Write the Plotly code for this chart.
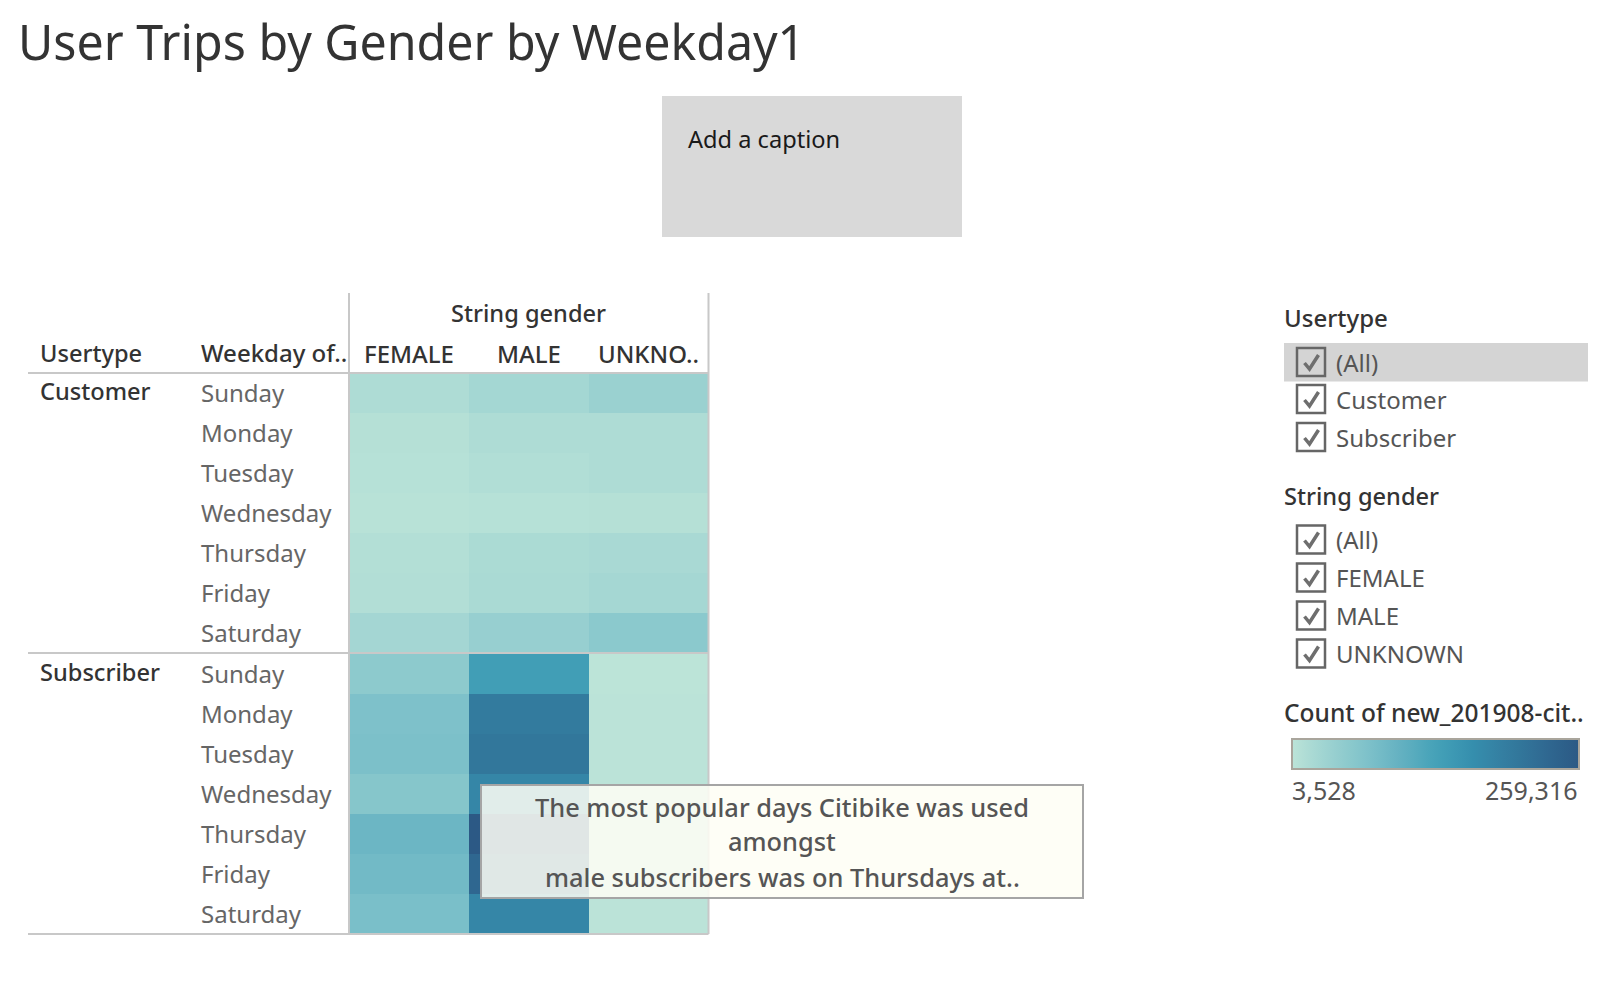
import plotly.graph_objects as go

W, H = 1624, 992
FONT = "Noto Sans"

genders = ["FEMALE", "MALE", "UNKNOWN"]
gender_labels = ["FEMALE", "MALE", "UNKNO.."]
weekdays = ["Sunday", "Monday", "Tuesday", "Wednesday", "Thursday", "Friday", "Saturday"]
usertypes = ["Customer", "Subscriber"]

customer_female = [17000, 10300, 8900, 7600, 12300, 13000, 27800]
customer_male = [27000, 17000, 14300, 8900, 19700, 21000, 41200]
customer_unknown = [38500, 17000, 17000, 10300, 22400, 26400, 54700]
subscriber_female = [53300, 70800, 73500, 61400, 91000, 84300, 74900]
subscriber_male = [138100, 198700, 205500, 178500, 259316, 232400, 178500]
subscriber_unknown = [3528, 4900, 4900, 4900, 4900, 4900, 4900]

color_min_label = "3,528"
color_max_label = "259,316"
bluteal = ["#bce4d8", "#aedcd5", "#a1d5d2", "#95cecf", "#89c8cc", "#7ec1ca", "#72bac6",
           "#66b2c2", "#59acbe", "#4ba5ba", "#419eb6", "#3b96b2", "#358ead", "#3586a7",
           "#347ea1", "#32779b", "#316f96", "#2f6790", "#2d608a", "#2c5985"]

filter_usertype = ["(All)", "Customer", "Subscriber"]
filter_gender = ["(All)", "FEMALE", "MALE", "UNKNOWN"]

row_keys = [f"{u}|{d}" for u in usertypes for d in weekdays]
z = []
for i in range(7):
    z.append([customer_female[i], customer_male[i], customer_unknown[i]])
for i in range(7):
    z.append([subscriber_female[i], subscriber_male[i], subscriber_unknown[i]])

LEFT, RIGHT, TOP, MID, BOTTOM = 349, 708.5, 373, 653, 934
px = lambda v: v / W
py = lambda v: 1 - v / H

fig = go.Figure(go.Heatmap(
    z=z, x=genders, y=row_keys, zmin=3528, zmax=259316,
    colorscale=[[i / (len(bluteal) - 1), c] for i, c in enumerate(bluteal)],
    hoverongaps=False,
    colorbar=dict(orientation="h", x=px(1292), xanchor="left", y=py(770.5), yanchor="bottom",
                  lenmode="pixels", len=287, thicknessmode="pixels", thickness=30,
                  xpad=0, ypad=0, ticks="", showticklabels=False,
                  outlinecolor="#a9a59c", outlinewidth=2, borderwidth=0),
))

shapes, ann = [], []

def text(x, y, s, size, color, anchor="left", weight=400):
    ann.append(dict(x=px(x), y=py(y), xref="paper", yref="paper", text=s, showarrow=False,
                    xanchor=anchor, yanchor="middle", align=anchor,
                    font=dict(family=FONT, size=size, color=color, weight=weight)))

def rect(x0, y0, x1, y1, fill, line=None, lw=0):
    shapes.append(dict(type="rect", xref="paper", yref="paper", x0=px(x0), x1=px(x1),
                       y0=py(y0), y1=py(y1), fillcolor=fill,
                       line=dict(color=line or fill, width=lw)))

def seg(x0, y0, x1, y1, color="#c8c8c8", lw=2):
    shapes.append(dict(type="line", xref="paper", yref="paper", x0=px(x0), x1=px(x1),
                       y0=py(y0), y1=py(y1), line=dict(color=color, width=lw)))

def checkbox(yc):
    rect(1297, yc - 14, 1325, yc + 14, "rgba(255,255,255,0)", "#666666", 2.5)
    xs, ys = [1304.5, 1309.5, 1318.5], [yc + 1, yc + 7, yc - 7]
    path = f"M {px(xs[0])} {py(ys[0])} L {px(xs[1])} {py(ys[1])} L {px(xs[2])} {py(ys[2])}"
    shapes.append(dict(type="path", xref="paper", yref="paper", path=path,
                       line=dict(color="#6e6e6e", width=3.5)))

# Title and caption
text(16, 41, "User Trips by Gender by Weekday1", 48.3, "#333333")
rect(662, 96, 962, 237, "#d9d9d9")
text(686, 139, "Add a caption", 23.6, "#1a1a1a")

# Table frame
seg(LEFT, 293, LEFT, BOTTOM)
seg(RIGHT, 293, RIGHT, BOTTOM)
for yy in (TOP, MID, BOTTOM):
    seg(28, yy, RIGHT, yy)

# Table headers
text(528, 313, "String gender", 23.6, "#333333", "center", 500)
text(38, 353, "Usertype", 23.6, "#333333", weight=500)
text(199, 352.5, "Weekday of..", 24, "#333333", weight=500)
for g, lab in zip(genders, gender_labels):
    ann.append(dict(x=g, xref="x", y=py(353), yref="paper", text=lab, showarrow=False,
                    xanchor="center", yanchor="middle",
                    font=dict(family=FONT, size=24, color="#333333", weight=500)))
for u in usertypes:
    ann.append(dict(x=px(38), xref="paper", y=f"{u}|Sunday", yref="y", text=u, showarrow=False,
                    xanchor="left", yanchor="middle", yshift=2,
                    font=dict(family=FONT, size=23.6, color="#333333", weight=500)))
for key, d in zip(row_keys, weekdays * 2):
    ann.append(dict(x=px(199), xref="paper", y=key, yref="y", text=d, showarrow=False,
                    xanchor="left", yanchor="middle", yshift=0.5,
                    font=dict(family=FONT, size=24, color="#666666")))

# Tooltip
rect(481, 785, 1083, 898, "rgba(254,254,244,0.86)", "#a5a5a5", 2)
text(782, 807, "The most popular days Citibike was used", 25.4, "#555555", "center", 500)
text(782, 841, "amongst", 25.4, "#555555", "center", 500)
text(782, 877, "male subscribers was on Thursdays at..", 25.4, "#555555", "center", 500)

# Filters
text(1282, 317, "Usertype", 24, "#333333", weight=500)
rect(1291, 343, 1596, 381.5, "#d4d4d4") if False else rect(1284, 343, 1588, 381.5, "#d4d4d4")
for yc, lab in zip((362, 399, 437), filter_usertype):
    checkbox(yc)
    text(1334, yc, lab, 24, "#555555")
text(1282, 496, "String gender", 23.6, "#333333", weight=500)
for yc, lab in zip((539.5, 577.5, 615.5, 653.5), filter_gender):
    checkbox(yc)
    text(1334, yc - 0.5, lab, 24, "#555555")
text(1282, 712.6, "Count of new_201908-cit..", 24.5, "#333333", weight=500)
text(1290, 789.6, color_min_label, 25, "#555555")
text(1580, 789.6, color_max_label, 25, "#555555", "right")

fig.update_layout(
    width=W, height=H, margin=dict(l=0, r=0, t=0, b=0),
    paper_bgcolor="white", plot_bgcolor="white", showlegend=False,
    shapes=shapes, annotations=ann,
    xaxis=dict(domain=[px(LEFT), px(RIGHT)], showticklabels=False, ticks="", showgrid=False, zeroline=False),
    yaxis=dict(domain=[py(BOTTOM), py(TOP)], autorange="reversed", showticklabels=False, ticks="", showgrid=False, zeroline=False),
)
fig.write_html("out.html", post_script="document.body.style.margin='0';", config={"displayModeBar": False})
